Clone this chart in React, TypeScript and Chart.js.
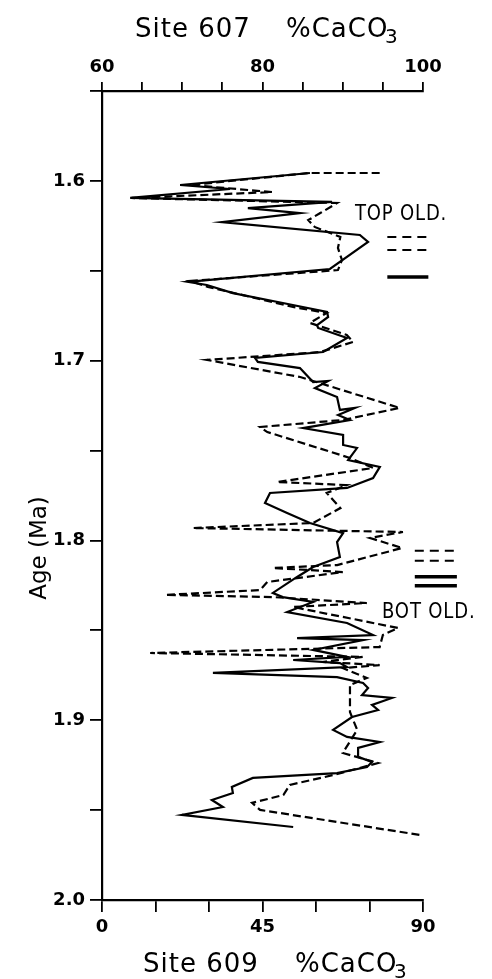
import React, { useEffect, useRef } from 'react';
import { Chart, registerables } from 'chart.js';

Chart.register(...registerables);

// ---- Site 609 (solid line, bottom axis, %CaCO3 0-90) ----
const site609Age = [
  1.5956, 1.6023, 1.6045, 1.6095, 1.6117, 1.6151, 1.6179, 1.6229, 1.6301, 1.634,
  1.649, 1.6562, 1.6579, 1.6624, 1.6679, 1.6729, 1.6757, 1.6802, 1.6818, 1.6874,
  1.6952, 1.6985, 1.7007, 1.7041, 1.7119, 1.7113, 1.7152, 1.7202, 1.7274, 1.7263,
  1.7302, 1.733, 1.7375, 1.7413, 1.7469, 1.7486, 1.7553, 1.7591, 1.7653, 1.7708,
  1.7736, 1.7792, 1.7847, 1.7903, 1.7959, 1.8009, 1.8092, 1.8148, 1.8203, 1.8292,
  1.8315, 1.8342, 1.8398, 1.8459, 1.8526, 1.8543, 1.8554, 1.8609, 1.8648, 1.8665,
  1.8682, 1.8704, 1.8737, 1.876, 1.8793, 1.8821, 1.886, 1.8876, 1.8915, 1.8943,
  1.8982, 1.9054, 1.9093, 1.9121, 1.9154, 1.9204, 1.9232, 1.926, 1.9294, 1.9321,
  1.9371, 1.9405, 1.9444, 1.9483, 1.9527, 1.9594,
];
const site609CaCO3 = [
  58.3, 21.9, 35.9, 7.9, 64.5, 40.9, 55.5, 33.6, 72.3, 74.6,
  63.9, 24.1, 29.4, 36.7, 50.7, 63.1, 63.4, 60.3, 60.6, 68.7,
  62.0, 42.9, 43.7, 55.5, 59.2, 63.4, 59.7, 65.9, 66.7, 70.9,
  66.2, 69.5, 56.4, 67.6, 67.6, 71.5, 69.0, 77.9, 76.0, 68.7,
  47.1, 45.7, 51.9, 58.3, 67.6, 65.9, 66.7, 59.2, 54.7, 47.9,
  50.7, 59.2, 51.9, 68.7, 76.0, 54.7, 73.2, 59.2, 68.7, 53.6,
  66.7, 68.7, 31.1, 65.9, 73.2, 74.6, 72.9, 81.3, 75.7, 77.4,
  70.1, 64.8, 68.7, 77.9, 71.8, 71.8, 75.7, 74.3, 65.9, 42.3,
  36.4, 36.7, 30.8, 33.9, 22.4, 53.6,
];

// ---- Site 607 (dashed line, top axis, %CaCO3 60-100) ----
const site607Age = [
  1.5956, 1.5956, 1.6023, 1.6062, 1.6095, 1.6123, 1.6179, 1.6218, 1.6256, 1.6312,
  1.6373, 1.644, 1.6496, 1.6557, 1.659, 1.6701, 1.6735, 1.679, 1.6857, 1.6896,
  1.6952, 1.6996, 1.7091, 1.7263, 1.733, 1.7369, 1.7397, 1.7541, 1.7597, 1.7675,
  1.7692, 1.7736, 1.782, 1.7903, 1.7931, 1.7953, 1.7986, 1.8042, 1.8137, 1.8153,
  1.8176, 1.8231, 1.8276, 1.8303, 1.8315, 1.8348, 1.837, 1.8487, 1.8526, 1.8593,
  1.8626, 1.8648, 1.8676, 1.8693, 1.871, 1.8765, 1.8804, 1.8954, 1.9054, 1.9182,
  1.9238, 1.9305, 1.936, 1.9416, 1.946, 1.9499, 1.9638,
];
const site607CaCO3 = [
  94.6, 85.9, 71.0, 81.2, 63.7, 89.3, 87.2, 85.7, 86.5, 89.7,
  89.4, 89.9, 89.4, 71.0, 73.2, 83.8, 88.0, 85.9, 90.5, 91.3,
  87.2, 73.1, 84.7, 97.1, 90.0, 79.7, 80.6, 90.9, 93.8, 81.8,
  90.5, 88.0, 89.7, 86.3, 71.3, 97.5, 93.4, 97.4, 89.3, 81.3,
  90.0, 80.6, 79.7, 67.9, 81.3, 93.0, 83.8, 96.9, 95.0, 94.6,
  66.0, 92.5, 87.5, 94.6, 90.0, 93.0, 90.9, 90.9, 91.8, 90.0,
  94.4, 88.8, 83.4, 82.6, 78.7, 79.7, 99.6,
];

// ---- Axis tick labels ----
const ageTickLabels = [1.6, 1.7, 1.8, 1.9, 2.0];
const site607TickLabels = [60, 80, 100];
const site609TickLabels = [0, 45, 90];

// ---- Olduvai boundary markers (age, Ma) and their extent in Site 609 units ----
const topOldDashedAges = [1.6312, 1.6384];
const topOldSolidAges = [1.6534];
const topOldSpan = [80.0, 91.5];
const botOldDashedAges = [1.8057, 1.8113];
const botOldSolidAges = [1.8202, 1.8252];
const botOldSpan = [87.7, 99.5];
const olduvaiLabels = ['TOP OLD.', 'BOT OLD.'];
const olduvaiLabelAges = [1.6217, 1.843];
const olduvaiLabelX = [70.9, 78.5];

const FONT = '"DejaVu Sans", sans-serif';

const textPlugin = {
  id: 'customTexts',
  afterDraw(chart: any) {
    const ctx = chart.ctx as CanvasRenderingContext2D;
    const { left, top, bottom } = chart.chartArea;
    const xs = chart.scales.x;
    const ys = chart.scales.y;
    ctx.save();
    ctx.fillStyle = '#000';
    ctx.textAlign = 'left';
    ctx.textBaseline = 'alphabetic';
    (ctx as any).letterSpacing = '1px';
    ctx.font = `26px ${FONT}`;
    // top title
    ctx.fillText('Site 607', left + 33, top - 54);
    ctx.fillText('%CaCO', left + 184, top - 54);
    // bottom title
    ctx.fillText('Site 609', left + 41, bottom + 72);
    ctx.fillText('%CaCO', left + 193, bottom + 72);
    ctx.font = `20px ${FONT}`;
    ctx.fillText('3', left + 283, top - 48);
    ctx.fillText('3', left + 292, bottom + 78);

    // y title
    (ctx as any).letterSpacing = '0px';
    ctx.save();
    ctx.font = `23px ${FONT}`;
    ctx.translate(left - 56, top + 457);
    ctx.rotate(-Math.PI / 2);
    ctx.textAlign = 'center';
    ctx.fillText('Age (Ma)', 0, 0);
    ctx.restore();

    // Olduvai labels
    ctx.font = `22px ${FONT}`;
    (ctx as any).letterSpacing = '1px';
    olduvaiLabels.forEach((t, i) => {
      const px = xs.getPixelForValue(olduvaiLabelX[i]);
      const py = ys.getPixelForValue(olduvaiLabelAges[i]);
      ctx.save();
      ctx.translate(px, py);
      ctx.scale(0.82, 1);
      ctx.fillText(t, 0, 0);
      ctx.restore();
    });
    ctx.restore();
  },
};

function markerSets(ages: number[], span: number[], dashed: boolean) {
  return ages.map((a) => ({
    data: [
      { x: span[0], y: a },
      { x: span[1], y: a },
    ],
    xAxisID: 'x',
    yAxisID: 'y',
    borderColor: '#000',
    borderWidth: dashed ? 2 : 3.5,
    borderDash: dashed ? [9, 6] : [],
    showLine: true,
    pointRadius: 0,
    clip: false as any,
  }));
}

export default function App() {
  const ref = useRef<HTMLCanvasElement>(null);
  useEffect(() => {
    if (!ref.current) return;
    const axisCommon = {
      grid: {
        drawOnChartArea: false,
        drawTicks: true,
        color: '#000',
        tickColor: '#000',
        lineWidth: 1.8,
      },
      border: { display: true, color: '#000', width: 2.2 },
    };
    const tickFont = { family: FONT, size: 18, weight: 'bold' };
    const chart = new Chart(ref.current, {
      type: 'scatter',
      data: {
        datasets: [
          {
            label: 'Site 609',
            data: site609Age.map((a, i) => ({ x: site609CaCO3[i], y: a })),
            xAxisID: 'x',
            yAxisID: 'y',
            borderColor: '#000',
            borderWidth: 2.2,
            showLine: true,
            pointRadius: 0,
          },
          {
            label: 'Site 607',
            data: site607Age.map((a, i) => ({ x: site607CaCO3[i], y: a })),
            xAxisID: 'x2',
            yAxisID: 'y',
            borderColor: '#000',
            borderWidth: 2.2,
            borderDash: [8, 4],
            showLine: true,
            pointRadius: 0,
          },
          ...markerSets(topOldDashedAges, topOldSpan, true),
          ...markerSets(topOldSolidAges, topOldSpan, false),
          ...markerSets(botOldDashedAges, botOldSpan, true),
          ...markerSets(botOldSolidAges, botOldSpan, false),
        ] as any,
      },
      options: {
        animation: false,
        responsive: false,
        devicePixelRatio: 1,
        layout: { padding: { left: 0, right: 69, top: 0, bottom: 0 } },
        plugins: { legend: { display: false }, tooltip: { enabled: false } },
        events: [],
        scales: {
          x: {
            type: 'linear',
            position: 'bottom',
            min: 0,
            max: 90,
            ...axisCommon,
            grid: { ...axisCommon.grid, tickLength: 12 },
            ticks: {
              stepSize: 15,
              autoSkip: false,
              maxRotation: 0,
              padding: 5,
              color: '#000',
              font: tickFont,
              callback: (v: any) => (site609TickLabels.includes(Number(v)) ? String(v) : ''),
            },
            afterFit: (s: any) => {
              s.height = 79;
            },
          },
          x2: {
            type: 'linear',
            position: 'top',
            min: 60,
            max: 100,
            ...axisCommon,
            grid: { ...axisCommon.grid, tickLength: 9 },
            ticks: {
              stepSize: 5,
              autoSkip: false,
              maxRotation: 0,
              padding: 4,
              color: '#000',
              font: tickFont,
              callback: (v: any) => (site607TickLabels.includes(Number(v)) ? String(v) : ''),
            },
            afterFit: (s: any) => {
              s.height = 91;
            },
          },
          y: {
            type: 'linear',
            position: 'left',
            reverse: true,
            min: 1.55,
            max: 2.0,
            ...axisCommon,
            grid: { ...axisCommon.grid, tickLength: 12 },
            ticks: {
              stepSize: 0.05,
              autoSkip: false,
              padding: 5,
              color: '#000',
              font: tickFont,
              callback: (v: any) => {
                const t = ageTickLabels.find((l) => Math.abs(l - Number(v)) < 1e-6);
                return t !== undefined ? t.toFixed(1) : '';
              },
            },
            afterFit: (s: any) => {
              s.width = 102;
            },
          },
        },
      } as any,
      plugins: [textPlugin],
    });
    return () => chart.destroy();
  }, []);
  return (
    <div style={{ position: 'fixed', left: 0, top: 0, width: 492, height: 979, background: '#fff' }}>
      <canvas ref={ref} width={492} height={979} style={{ display: 'block' }} />
    </div>
  );
}
